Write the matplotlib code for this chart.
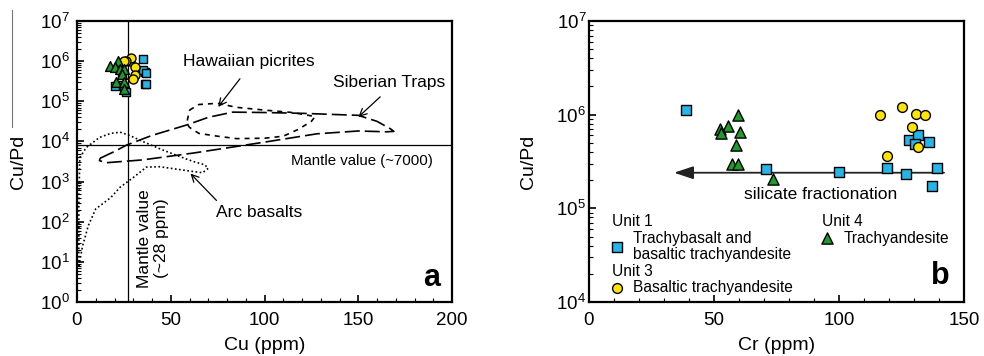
import numpy as np
import matplotlib
matplotlib.use('Agg')
import matplotlib.pyplot as plt
from matplotlib.lines import Line2D
from matplotlib.ticker import LogLocator, MultipleLocator, NullFormatter

plt.rcParams['font.family'] = ['Liberation Sans', 'DejaVu Sans']
plt.rcParams['mathtext.default'] = 'regular'
plt.rcParams['font.size'] = 13

# Cu/Pd per sample (same samples in both panels)
unit1_cupd = [1.12e6, 2.6e5, 2.45e5, 2.7e5, 2.3e5, 2.7e5, 1.73e5, 5.4e5, 6.0e5, 4.9e5, 5.1e5]
unit1_cr = [38.6, 70.6, 100.0, 119.0, 126.7, 139.0, 137.0, 127.9, 131.6, 130.3, 135.9]
unit1_cu = [35, 22, 20, 36, 25, 37, 26, 36, 35, 24, 37]

unit3_cupd = [9.8e5, 1.2e6, 1.02e6, 9.8e5, 7.3e5, 4.5e5, 3.6e5]
unit3_cr = [116.3, 125.3, 130.9, 134.5, 129.0, 131.7, 119.0]
unit3_cu = [28, 29, 26, 25, 31, 31, 30]

unit4_cupd = [1.0e6, 7.5e5, 7.1e5, 6.3e5, 6.5e5, 4.7e5, 3.0e5, 3.0e5, 2.05e5]
unit4_cr = [59.4, 55.4, 52.2, 52.6, 60.3, 58.7, 57.3, 59.7, 73.4]
unit4_cu = [22, 17.5, 20, 23, 25, 24, 21, 25, 25]

# field outlines (Cu ppm, log10 Cu/Pd)
haw_x = [60, 65, 75, 85, 100, 115, 127, 125, 118, 110, 100, 85, 75, 65, 60, 58.5, 60]
haw_y = [4.78, 4.92, 4.95, 4.85, 4.78, 4.72, 4.62, 4.5, 4.3, 4.13, 4.08, 4.07, 4.13, 4.2, 4.35, 4.45, 4.78]
sib_x = [12.3, 20, 26.5, 40, 58.5, 70, 83, 100, 120, 150, 160, 167, 169, 165, 150, 128, 101, 83, 62, 35, 15.8, 12, 12.3]
sib_y = [3.58, 3.75, 3.91, 4.15, 4.41, 4.6, 4.73, 4.72, 4.7, 4.65, 4.5, 4.32, 4.25, 4.24, 4.26, 4.19, 3.99, 3.86, 3.71, 3.54, 3.47, 3.52, 3.58]
arc_x = [1, 1, 1.5, 5, 12, 18, 23, 28, 35, 45, 55, 62, 68, 70, 67, 62, 50, 44, 37, 30, 23, 18, 10, 6, 3, 1]
arc_y = [0.9, 2.5, 3.6, 3.85, 4.1, 4.2, 4.23, 4.15, 4.0, 3.8, 3.62, 3.5, 3.42, 3.33, 3.22, 3.25, 3.33, 3.37, 3.36, 3.1, 2.86, 2.6, 2.32, 1.9, 1.4, 0.9]

mantle_cu = 27
mantle_cupd = 8000
arrow_y = 2.4e5

c_blue = '#25b5e6'
c_yel = '#ffe400'
c_grn = '#1f9a2c'

fig = plt.figure(figsize=(9.84, 3.56), dpi=100)
ax1 = fig.add_axes([77 / 984, 54 / 356, 375 / 984, 281 / 356])
ax2 = fig.add_axes([589 / 984, 54 / 356, 375 / 984, 281 / 356])


def style(ax, ypad):
    ax.set_yscale('log')
    for s in ax.spines.values():
        s.set_linewidth(1.6)
    ax.tick_params(which='both', direction='in', top=False, right=False)
    ax.tick_params(which='major', length=5, width=1.2, labelsize=13.5)
    ax.tick_params(which='minor', length=3, width=0.8)
    ax.tick_params(axis='x', which='major', pad=7)
    ax.tick_params(axis='y', which='major', pad=ypad)
    ax.xaxis.set_major_locator(MultipleLocator(50))
    ax.xaxis.set_minor_locator(MultipleLocator(10))
    ax.yaxis.set_major_locator(LogLocator(base=10, numticks=20))
    ax.yaxis.set_minor_locator(LogLocator(base=10, subs=np.arange(2, 10), numticks=20))
    ax.yaxis.set_minor_formatter(NullFormatter())


ann = 12.5
arrow_kw = dict(arrowstyle='->', color='k', lw=0.9, shrinkA=0, shrinkB=0)

# ---- panel a ----
style(ax1, 5)
ax1.set_xlim(0, 200)
ax1.set_ylim(1, 1e7)
ax1.plot(haw_x, 10 ** np.array(haw_y), color='k', lw=1.2, ls=(0, (3, 3)))
ax1.plot(sib_x, 10 ** np.array(sib_y), color='k', lw=1.2, ls=(0, (9, 3)))
ax1.plot(arc_x, 10 ** np.array(arc_y), color='k', lw=1.2, ls=(0, (1, 1.5)))
ax1.axvline(mantle_cu, color='k', lw=0.9)
ax1.axhline(mantle_cupd, color='k', lw=0.9)
ax1.scatter(unit1_cu, unit1_cupd, marker='s', s=40, c=c_blue, edgecolors='k', linewidths=1, zorder=3)
ax1.scatter(unit3_cu, unit3_cupd, marker='o', s=42, c=c_yel, edgecolors='k', linewidths=1, zorder=4)
ax1.scatter(unit4_cu, unit4_cupd, marker='^', s=50, c=c_grn, edgecolors='k', linewidths=1, zorder=5)

ax1.text(91.4, 10 ** 5.98, 'Hawaiian picrites', ha='center', va='center', fontsize=ann)
ax1.annotate('', xy=(75.3, 10 ** 4.86), xytext=(86.9, 10 ** 5.56), arrowprops=arrow_kw)
ax1.text(166.7, 10 ** 5.48, 'Siberian Traps', ha='center', va='center', fontsize=ann)
ax1.annotate('', xy=(150.1, 10 ** 4.61), xytext=(161.7, 10 ** 5.11), arrowprops=arrow_kw)
ax1.text(151.9, 10 ** 3.51, 'Mantle value (~7000)', ha='center', va='center', fontsize=10.8)
ax1.text(97.2, 10 ** 2.23, 'Arc basalts', ha='center', va='center', fontsize=ann)
ax1.annotate('', xy=(60.5, 10 ** 3.2), xytext=(74.4, 10 ** 2.53), arrowprops=arrow_kw)
ax1.text(40.5, 10 ** 1.58, 'Mantle value\n(~28 ppm)', rotation=90, ha='center', va='center',
         fontsize=ann, linespacing=1.2)
ax1.text(189, 10 ** 0.6, 'a', ha='center', va='center', fontsize=22, fontweight='bold')
ax1.set_xlabel('Cu (ppm)', fontsize=14)
ax1.set_ylabel('Cu/Pd', fontsize=14)
ax1.xaxis.set_label_coords(0.5, -0.125)
ax1.yaxis.set_label_coords(-0.133, 0.5)

# ---- panel b ----
style(ax2, 2)
ax2.set_xlim(0, 150)
ax2.set_ylim(1e4, 1e7)
ax2.annotate('', xy=(34, arrow_y), xytext=(142, arrow_y),
             arrowprops=dict(arrowstyle='-|>,head_length=0.9,head_width=0.3', color='#222222',
                             lw=1.3, shrinkA=0, shrinkB=0))
ax2.scatter(unit1_cr, unit1_cupd, marker='s', s=55, c=c_blue, edgecolors='k', linewidths=1, zorder=3)
ax2.scatter(unit3_cr, unit3_cupd, marker='o', s=50, c=c_yel, edgecolors='k', linewidths=1, zorder=4)
ax2.scatter(unit4_cr, unit4_cupd, marker='^', s=65, c=c_grn, edgecolors='k', linewidths=1, zorder=5)
ax2.text(92.7, 10 ** 5.15, 'silicate fractionation', ha='center', va='center', fontsize=ann)

fs_leg = 11.2
ax2.text(9.1, 10 ** 4.86, 'Unit 1', ha='left', va='center', fontsize=fs_leg)
ax2.scatter([11], [10 ** 4.59], marker='s', s=55, c=c_blue, edgecolors='k', linewidths=1)
ax2.text(17.7, 10 ** 4.68, 'Trachybasalt and', ha='left', va='center', fontsize=fs_leg)
ax2.text(17.7, 10 ** 4.51, 'basaltic trachyandesite', ha='left', va='center', fontsize=fs_leg)
ax2.text(9.1, 10 ** 4.33, 'Unit 3', ha='left', va='center', fontsize=fs_leg)
ax2.scatter([11], [10 ** 4.15], marker='o', s=50, c=c_yel, edgecolors='k', linewidths=1)
ax2.text(17.7, 10 ** 4.15, 'Basaltic trachyandesite', ha='left', va='center', fontsize=fs_leg)
ax2.text(93.0, 10 ** 4.86, 'Unit 4', ha='left', va='center', fontsize=fs_leg)
ax2.scatter([95], [10 ** 4.68], marker='^', s=65, c=c_grn, edgecolors='k', linewidths=1)
ax2.text(102, 10 ** 4.68, 'Trachyandesite', ha='left', va='center', fontsize=fs_leg)
ax2.text(140.7, 10 ** 4.28, 'b', ha='center', va='center', fontsize=22, fontweight='bold')
ax2.set_xlabel('Cr (ppm)', fontsize=14)
ax2.set_ylabel('Cu/Pd', fontsize=14)
ax2.xaxis.set_label_coords(0.5, -0.125)
ax2.yaxis.set_label_coords(-0.139, 0.5)

# stray line left of panel a in the original
fig.add_artist(Line2D([12 / 984, 12 / 984], [1 - 10 / 356, 1 - 127 / 356], color='#777777', lw=0.8))

fig.savefig('out.png', dpi=100)
